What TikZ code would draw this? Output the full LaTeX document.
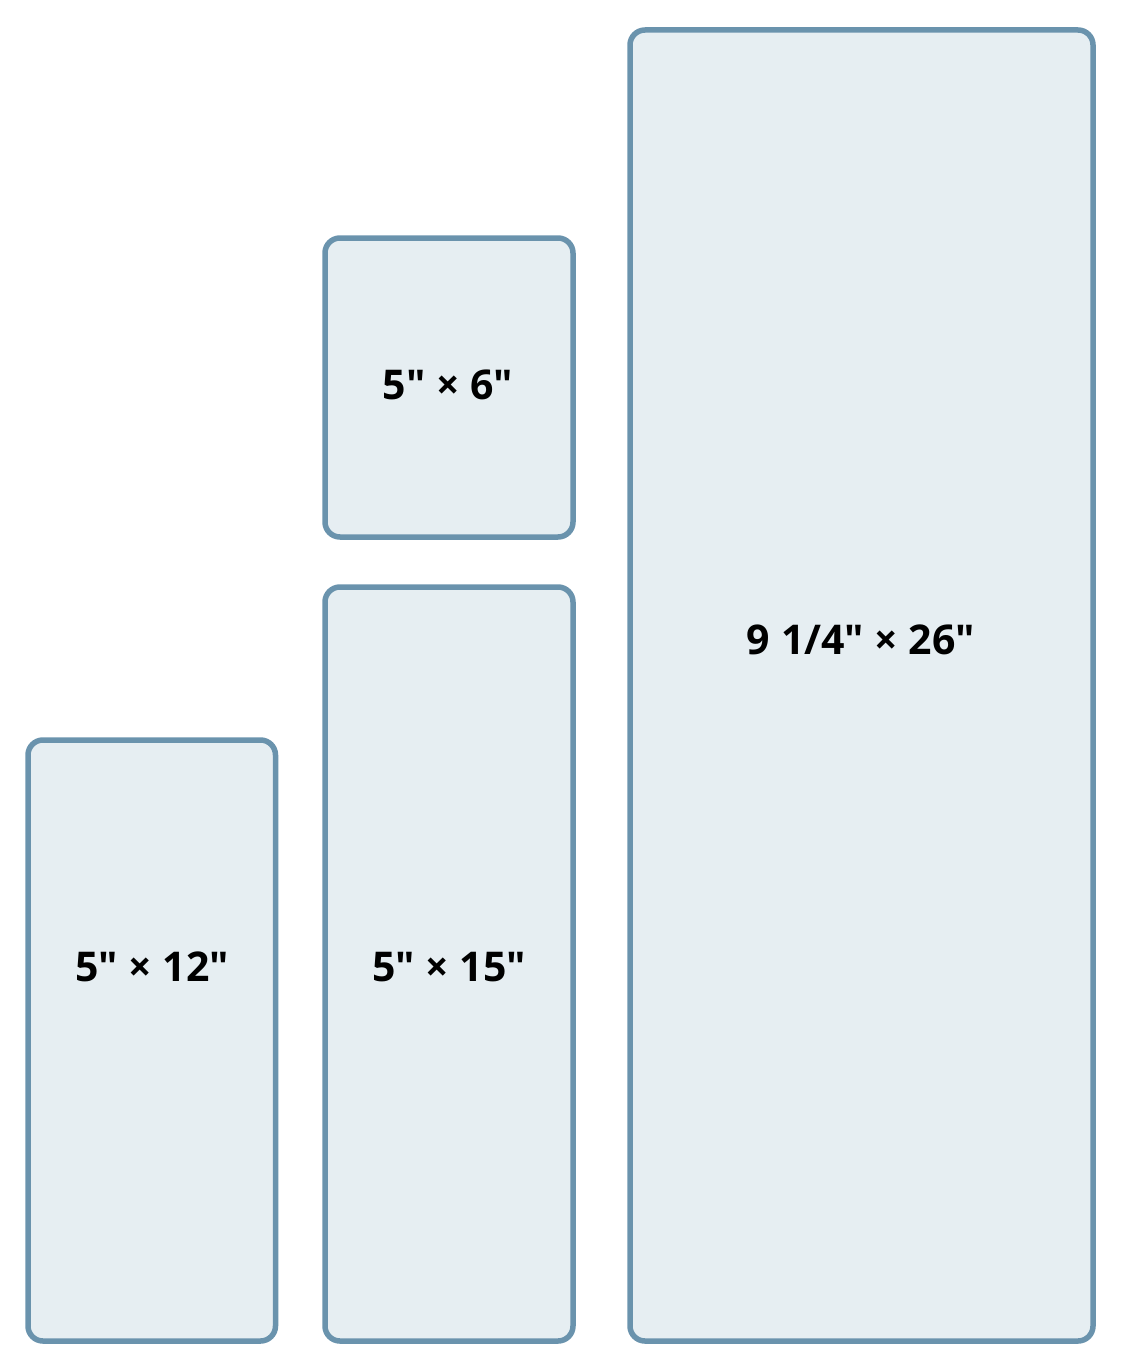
\documentclass[tikz,border=0pt]{standalone}
\usepackage{fontspec}
\newfontfamily\labelfont{Open Sans}
\definecolor{boxline}{HTML}{6A93AD}
\definecolor{boxfill}{HTML}{E6EEF2}
\tikzset{
  sizebox/.style={draw=boxline, fill=boxfill, line width=5.5pt, rounded corners=15pt},
  sizelabel/.style={font=\labelfont\bfseries\fontsize{41}{46}\selectfont, text=black, inner sep=0pt}
}
\begin{document}
\begin{tikzpicture}[x=1pt,y=-1pt]
  \useasboundingbox (0,0) rectangle (1127,1370);

  % Draw the boxes
  \draw[sizebox] (28,740) rectangle (275.5,1341);
  \draw[sizebox] (325,238) rectangle (573,537);
  \draw[sizebox] (325,587) rectangle (573,1341);
  \draw[sizebox] (630,30) rectangle (1093,1341);

  % Write the sizes
  \node[sizelabel] (small) at (448,385) {5" × 6"};
  \node[sizelabel] (narrow) at (152,967) {5" × 12"};
  \node[sizelabel] (tall) at (449,967) {5" × 15"};
  \node[sizelabel] (large) at (861,640) {9 1/4" × 26"};
\end{tikzpicture}
\end{document}
